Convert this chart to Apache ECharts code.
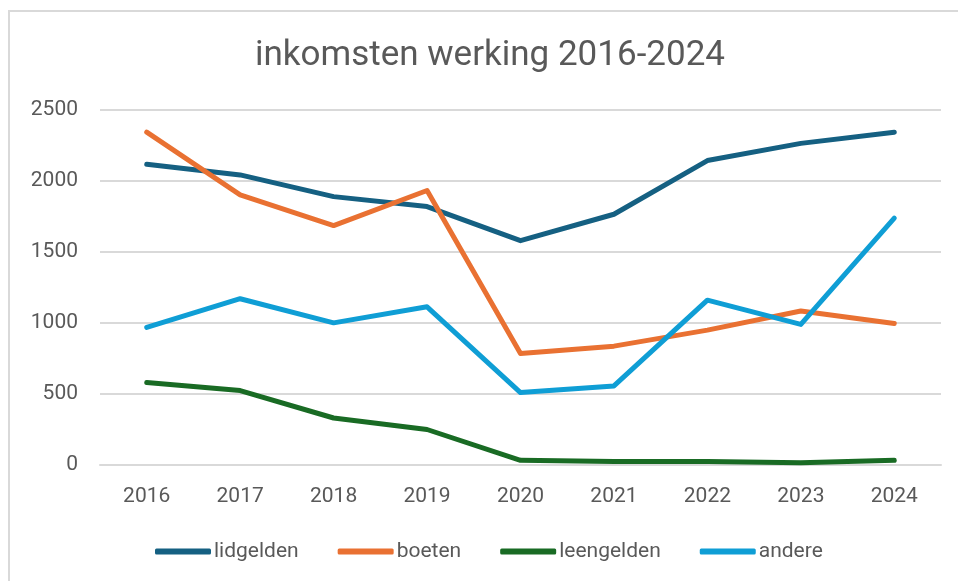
<!DOCTYPE html>
<html>
<head>
<meta charset="utf-8">
<script src="https://cdn.jsdelivr.net/npm/echarts@6/dist/echarts.min.js"></script>
<style>
  html, body { margin: 0; padding: 0; background: #fff; }
  #frame {
    position: absolute; left: 8px; top: 10px; width: 960px; height: 580px;
    border-top: 2px solid #d9d9d9; border-left: 2px solid #d9d9d9;
  }
  #chart { position: absolute; left: 0; top: 0; width: 958px; height: 581px; }
</style>
</head>
<body>
<div id="frame"></div>
<div id="chart"></div>
<script>
const years = ['2016', '2017', '2018', '2019', '2020', '2021', '2022', '2023', '2024'];
const seriesNames = ['lidgelden', 'boeten', 'leengelden', 'andere'];
const lidgelden = [2118, 2043, 1890, 1820, 1580, 1766, 2144, 2265, 2344];
const boeten = [2344, 1902, 1686, 1933, 786, 837, 950, 1084, 997];
const leengelden = [581, 524, 331, 250, 33, 25, 25, 15, 33];
const andere = [969, 1171, 1001, 1114, 510, 557, 1161, 990, 1738];

const fontFamily = 'Roboto, "Liberation Sans", sans-serif';
const textColor = '#595959';

const chart = echarts.init(document.getElementById('chart'));

const makeLine = (name, data, color) => ({
    name: name,
    type: 'line',
    data: data,
    symbol: 'none',
    lineStyle: { width: 5, color: color, cap: 'round', join: 'round' },
    itemStyle: { color: color }
});

chart.setOption({
    animation: false,
    textStyle: { fontFamily: fontFamily },
    title: {
        text: 'inkomsten werking 2016-2024',
        left: 250,
        top: 34,
        textStyle: { fontSize: 35, fontWeight: 'normal', color: textColor, fontFamily: fontFamily }
    },
    legend: {
        data: seriesNames,
        left: 150,
        top: 536,
        icon: 'roundRect',
        itemWidth: 56,
        itemHeight: 6,
        itemGap: 39,
        textStyle: { fontSize: 21, color: textColor, padding: [0, 0, 0, -2] }
    },
    grid: { left: 100, right: 17, top: 110, bottom: 116 },
    xAxis: {
        type: 'category',
        data: years,
        boundaryGap: true,
        axisLine: { show: true, lineStyle: { color: '#d9d9d9', width: 2 } },
        axisTick: { show: false },
        axisLabel: { fontSize: 21, color: textColor, margin: 21 }
    },
    yAxis: {
        type: 'value',
        min: 0,
        max: 2500,
        interval: 500,
        axisLine: { show: false },
        axisTick: { show: false },
        splitLine: { lineStyle: { color: '#d9d9d9', width: 2 } },
        axisLabel: { fontSize: 21, color: textColor, margin: 22, formatter: v => String(v) }
    },
    series: [
        makeLine('lidgelden', lidgelden, '#156082'),
        makeLine('boeten', boeten, '#E97132'),
        makeLine('leengelden', leengelden, '#196B24'),
        makeLine('andere', andere, '#0F9ED5')
    ]
});
</script>
</body>
</html>
